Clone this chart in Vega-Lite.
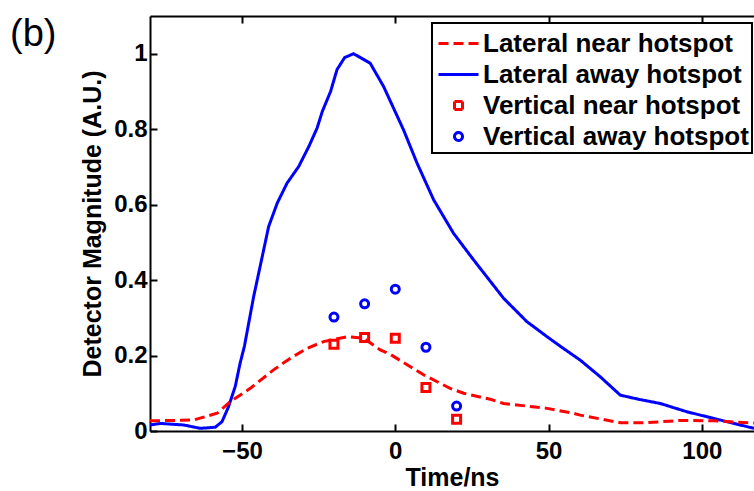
{
  "$schema": "https://vega.github.io/schema/vega-lite/v6.json",
  "autosize": {"type": "none"},
  "padding": {"left": 150, "top": 16, "right": 0, "bottom": 60},
  "width": 604,
  "height": 415,
  "background": "white",
  "title": {"text": "(b)", "anchor": "start", "frame": "group", "orient": "top", "offset": 0, "dx": -140, "dy": 69,
            "baseline": "alphabetic", "font": "Liberation Sans", "fontSize": 38, "fontWeight": "normal", "color": "black"},
  "config": {
    "view": {"stroke": null},
    "font": "Liberation Sans",
    "axis": {
      "domainColor": "black", "domainWidth": 2,
      "tickColor": "black", "tickWidth": 2, "tickSize": -7,
      "labelFont": "Liberation Sans", "labelFontWeight": "bold", "labelFontSize": 24, "labelColor": "black",
      "titleFont": "Liberation Sans", "titleFontWeight": "bold", "titleFontSize": 25, "titleColor": "black",
      "titleLimit": 0, "grid": false
    },
    "legend": {
      "strokeColor": "black", "strokeWidth": 2, "fillColor": "white",
      "padding": 3,
      "labelFont": "Liberation Sans", "labelFontWeight": "bold", "labelFontSize": 26, "labelColor": "black",
      "labelOffset": 7, "rowPadding": 0, "symbolOffset": 6, "symbolStrokeWidth": 3, "symbolSize": 1024, "labelLimit": 0
    }
  },
  "datasets": {
    "lines": [
      {"t": -80, "v": 0.016, "series": "Lateral away hotspot"},
      {"t": -76.6, "v": 0.02, "series": "Lateral away hotspot"},
      {"t": -69, "v": 0.016, "series": "Lateral away hotspot"},
      {"t": -63.6, "v": 0.007, "series": "Lateral away hotspot"},
      {"t": -58.7, "v": 0.01, "series": "Lateral away hotspot"},
      {"t": -56.5, "v": 0.025, "series": "Lateral away hotspot"},
      {"t": -54.4, "v": 0.064, "series": "Lateral away hotspot"},
      {"t": -52.2, "v": 0.118, "series": "Lateral away hotspot"},
      {"t": -50.6, "v": 0.18, "series": "Lateral away hotspot"},
      {"t": -49.2, "v": 0.225, "series": "Lateral away hotspot"},
      {"t": -46.2, "v": 0.356, "series": "Lateral away hotspot"},
      {"t": -43.4, "v": 0.462, "series": "Lateral away hotspot"},
      {"t": -41.3, "v": 0.542, "series": "Lateral away hotspot"},
      {"t": -38.5, "v": 0.604, "series": "Lateral away hotspot"},
      {"t": -35.3, "v": 0.657, "series": "Lateral away hotspot"},
      {"t": -31.5, "v": 0.701, "series": "Lateral away hotspot"},
      {"t": -28.2, "v": 0.754, "series": "Lateral away hotspot"},
      {"t": -25.5, "v": 0.803, "series": "Lateral away hotspot"},
      {"t": -23.8, "v": 0.847, "series": "Lateral away hotspot"},
      {"t": -21.1, "v": 0.9, "series": "Lateral away hotspot"},
      {"t": -19, "v": 0.958, "series": "Lateral away hotspot"},
      {"t": -16.5, "v": 0.99, "series": "Lateral away hotspot"},
      {"t": -13.6, "v": 1.0, "series": "Lateral away hotspot"},
      {"t": -8.2, "v": 0.975, "series": "Lateral away hotspot"},
      {"t": -3.8, "v": 0.913, "series": "Lateral away hotspot"},
      {"t": 2.7, "v": 0.798, "series": "Lateral away hotspot"},
      {"t": 7.1, "v": 0.71, "series": "Lateral away hotspot"},
      {"t": 12.5, "v": 0.613, "series": "Lateral away hotspot"},
      {"t": 19, "v": 0.524, "series": "Lateral away hotspot"},
      {"t": 25.5, "v": 0.454, "series": "Lateral away hotspot"},
      {"t": 35.3, "v": 0.352, "series": "Lateral away hotspot"},
      {"t": 42.9, "v": 0.29, "series": "Lateral away hotspot"},
      {"t": 49.5, "v": 0.25, "series": "Lateral away hotspot"},
      {"t": 54.8, "v": 0.219, "series": "Lateral away hotspot"},
      {"t": 60.3, "v": 0.188, "series": "Lateral away hotspot"},
      {"t": 66.8, "v": 0.144, "series": "Lateral away hotspot"},
      {"t": 73.4, "v": 0.095, "series": "Lateral away hotspot"},
      {"t": 79.4, "v": 0.084, "series": "Lateral away hotspot"},
      {"t": 86.4, "v": 0.073, "series": "Lateral away hotspot"},
      {"t": 95.1, "v": 0.051, "series": "Lateral away hotspot"},
      {"t": 106, "v": 0.029, "series": "Lateral away hotspot"},
      {"t": 117, "v": 0.007, "series": "Lateral away hotspot"},
      {"t": -80, "v": 0.027, "series": "Lateral near hotspot"},
      {"t": -65.8, "v": 0.029, "series": "Lateral near hotspot"},
      {"t": -58.1, "v": 0.047, "series": "Lateral near hotspot"},
      {"t": -53.8, "v": 0.078, "series": "Lateral near hotspot"},
      {"t": -47.3, "v": 0.113, "series": "Lateral near hotspot"},
      {"t": -39.7, "v": 0.162, "series": "Lateral near hotspot"},
      {"t": -34.2, "v": 0.193, "series": "Lateral near hotspot"},
      {"t": -28.8, "v": 0.219, "series": "Lateral near hotspot"},
      {"t": -23.4, "v": 0.237, "series": "Lateral near hotspot"},
      {"t": -15.7, "v": 0.25, "series": "Lateral near hotspot"},
      {"t": -10.3, "v": 0.246, "series": "Lateral near hotspot"},
      {"t": -4.9, "v": 0.215, "series": "Lateral near hotspot"},
      {"t": -1.6, "v": 0.203, "series": "Lateral near hotspot"},
      {"t": 9.2, "v": 0.149, "series": "Lateral near hotspot"},
      {"t": 17.9, "v": 0.113, "series": "Lateral near hotspot"},
      {"t": 22.3, "v": 0.1, "series": "Lateral near hotspot"},
      {"t": 31, "v": 0.084, "series": "Lateral near hotspot"},
      {"t": 35.3, "v": 0.073, "series": "Lateral near hotspot"},
      {"t": 49.5, "v": 0.06, "series": "Lateral near hotspot"},
      {"t": 58.1, "v": 0.047, "series": "Lateral near hotspot"},
      {"t": 60.3, "v": 0.042, "series": "Lateral near hotspot"},
      {"t": 73.4, "v": 0.022, "series": "Lateral near hotspot"},
      {"t": 82.1, "v": 0.022, "series": "Lateral near hotspot"},
      {"t": 92.9, "v": 0.028, "series": "Lateral near hotspot"},
      {"t": 103.8, "v": 0.027, "series": "Lateral near hotspot"},
      {"t": 117, "v": 0.021, "series": "Lateral near hotspot"}
    ],
    "pts": [
      {"t": -20, "v": 0.23, "series": "Vertical near hotspot"},
      {"t": -10, "v": 0.248, "series": "Vertical near hotspot"},
      {"t": 0, "v": 0.246, "series": "Vertical near hotspot"},
      {"t": 10, "v": 0.115, "series": "Vertical near hotspot"},
      {"t": 20, "v": 0.031, "series": "Vertical near hotspot"},
      {"t": -20, "v": 0.302, "series": "Vertical away hotspot"},
      {"t": -10, "v": 0.337, "series": "Vertical away hotspot"},
      {"t": 0, "v": 0.376, "series": "Vertical away hotspot"},
      {"t": 10, "v": 0.222, "series": "Vertical away hotspot"},
      {"t": 20, "v": 0.066, "series": "Vertical away hotspot"}
    ]
  },
  "resolve": {"axis": {"x": "independent"}},
  "layer": [
    {
      "data": {"name": "lines"},
      "mark": {"type": "line", "strokeWidth": 3, "clip": true},
      "encoding": {
        "x": {"field": "t", "type": "quantitative",
              "scale": {"domain": [-80, 117], "nice": false, "zero": false},
              "axis": {"values": [-50, 0, 50, 100], "title": "Time/ns", "labelPadding": 15, "titlePadding": 2}},
        "y": {"field": "v", "type": "quantitative",
              "scale": {"domain": [0, 1.1], "nice": false},
              "axis": {"values": [0, 0.2, 0.4, 0.6, 0.8, 1], "format": "~g", "title": "Detector Magnitude (A.U.)", "titleLimit": 0, "labelPadding": 10, "titlePadding": 8}},
        "color": {"field": "series", "type": "nominal",
                  "scale": {"domain": ["Lateral near hotspot", "Lateral away hotspot", "Vertical near hotspot", "Vertical away hotspot"],
                            "range": ["#ff0000", "#0000ff", "#ff0000", "#0000ff"]},
                  "legend": {"title": null, "orient": "none", "legendX": 282, "legendY": 7}},
        "strokeDash": {"field": "series", "type": "nominal",
                  "scale": {"domain": ["Lateral near hotspot", "Lateral away hotspot", "Vertical near hotspot", "Vertical away hotspot"],
                            "range": [[10, 5], [1, 0], [1, 0], [1, 0]]},
                  "legend": {"title": null, "orient": "none", "legendX": 282, "legendY": 7}}
      }
    },
    {
      "data": {"name": "pts"},
      "mark": {"type": "point", "filled": false, "strokeWidth": 3, "opacity": 1, "size": 1024},
      "encoding": {
        "x": {"field": "t", "type": "quantitative",
              "scale": {"domain": [-80, 117], "nice": false, "zero": false},
              "axis": {"orient": "top", "values": [-50, 0, 50, 100], "labels": false, "title": null}},
        "y": {"field": "v", "type": "quantitative"},
        "color": {"field": "series", "type": "nominal"},
        "shape": {"field": "series", "type": "nominal",
                  "scale": {"domain": ["Lateral near hotspot", "Lateral away hotspot", "Vertical near hotspot", "Vertical away hotspot"],
                            "range": ["M-1.25,0H1.25", "M-1.25,0H1.25", "M-0.25,-0.25H0.25V0.25H-0.25Z", "M0.25,0A0.25,0.25,0,1,1,-0.25,0A0.25,0.25,0,1,1,0.25,0Z"]},
                  "legend": {"title": null, "orient": "none", "legendX": 282, "legendY": 7}}
      }
    }
  ]
}
